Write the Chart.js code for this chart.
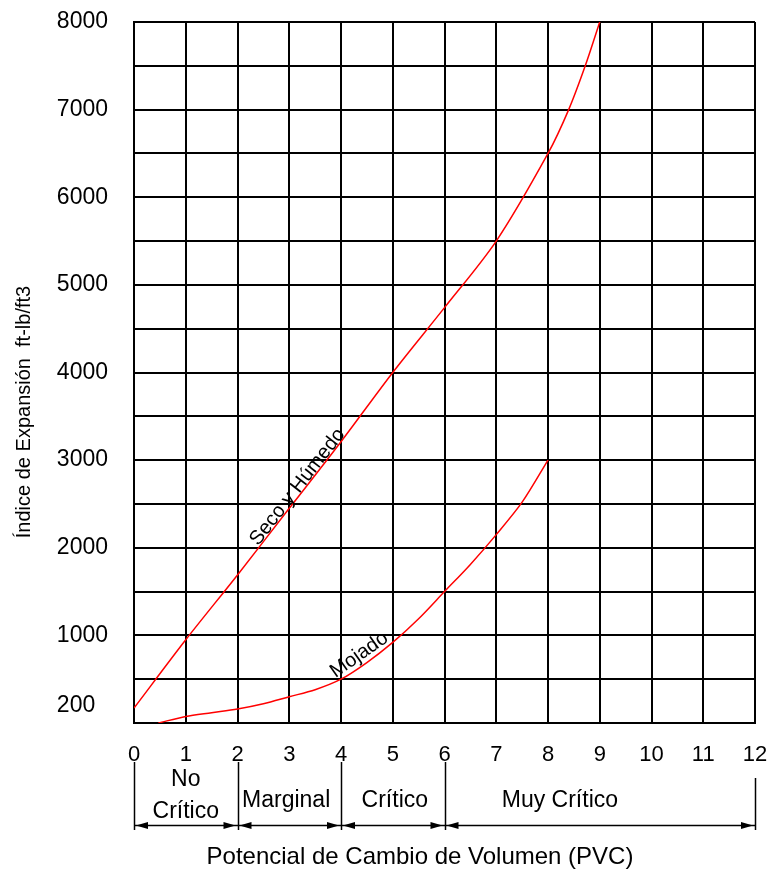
<!DOCTYPE html>
<html><head><meta charset="utf-8">
<script src="https://cdn.jsdelivr.net/npm/chart.js@4.4.1/dist/chart.umd.min.js"></script>
<style>html,body{margin:0;padding:0;background:#fff;}#wrap{width:774px;height:871px;position:relative;}</style>
</head><body><div id="wrap"><canvas id="c" width="774" height="871"></canvas></div>
<script>
// ---- data ----
const xTickValues = [0,1,2,3,4,5,6,7,8,9,10,11,12];
const yGridValues = [0,500,1000,1500,2000,2500,3000,3500,4000,4500,5000,5500,6000,6500,7000,7500,8000];
const yTickLabels = [200,1000,2000,3000,4000,5000,6000,7000,8000];
const secoX = [0,1,2,3,4,5,6,7,8,8.4,8.72,9];
const secoY = [170,950,1690,2450,3210,4000,4740,5500,6500,7000,7500,8000];
const mojadoX = [0.47,1,1.5,2,2.5,3,3.5,4,4.5,5,5.5,6,6.5,7,7.5,8];
const mojadoY = [0,75,118,160,220,300,380,500,690,920,1190,1500,1810,2150,2520,3000];
const seriesNames = ['Seco y Húmedo','Mojado'];
const categoryNames = [['No','Crítico'],['Marginal'],['Crítico'],['Muy Crítico']];
const categoryBounds = [0,2,4,6,12];

// ---- layout / style constants ----
const FONT = '"Liberation Sans", Arial, sans-serif';
const categoryLabelX = [1, 2.94, 5.04, 8.23];
const curveLabelAt = [3.26, 4.47];
const curveLabelLift = [1, 5];

const toPts = (xs, ys) => xs.map((x,i)=>({x:x, y:ys[i]}));

function interp(xs, ys, x){
  for (let i=0;i<xs.length-1;i++){
    if (x>=xs[i] && x<=xs[i+1]){
      const t=(x-xs[i])/(xs[i+1]-xs[i]);
      return ys[i]+t*(ys[i+1]-ys[i]);
    }
  }
  return ys[ys.length-1];
}

const annot = {
  id:'annot',
  afterDraw(chart){
    const ctx = chart.ctx, xs = chart.scales.x, ys = chart.scales.y, ca = chart.chartArea;
    ctx.save();
    ctx.fillStyle = '#000';
    // y title
    ctx.save();
    ctx.translate(24, 412);
    ctx.rotate(-Math.PI/2);
    ctx.font = '20px ' + FONT;
    ctx.textAlign='center'; ctx.textBaseline='middle';
    ctx.fillText('Índice de Expansión  ft-lb/ft3', 0, 0);
    ctx.restore();
    // x title
    ctx.font = '24px ' + FONT;
    ctx.textAlign='center'; ctx.textBaseline='middle';
    ctx.fillText('Potencial de Cambio de Volumen (PVC)', 420, 857);
    // category brackets
    ctx.strokeStyle='#000'; ctx.lineWidth=1.5;
    categoryBounds.forEach((b,i)=>{
      const px = Math.round(xs.getPixelForValue(b))+0.5;
      ctx.beginPath();
      ctx.moveTo(px, i===categoryBounds.length-1 ? 778 : 762);
      ctx.lineTo(px, 830);
      ctx.stroke();
    });
    ctx.beginPath();
    ctx.moveTo(ca.left, 825.5); ctx.lineTo(ca.right, 825.5); ctx.stroke();
    // arrowheads
    for (let i=0;i<categoryBounds.length-1;i++){
      const a = xs.getPixelForValue(categoryBounds[i]);
      const b = xs.getPixelForValue(categoryBounds[i+1]);
      ctx.beginPath();
      ctx.moveTo(a+2, 825.5); ctx.lineTo(a+14, 822); ctx.lineTo(a+14, 829); ctx.closePath(); ctx.fill();
      ctx.beginPath();
      ctx.moveTo(b-2, 825.5); ctx.lineTo(b-14, 822); ctx.lineTo(b-14, 829); ctx.closePath(); ctx.fill();
    }
    // category labels
    ctx.font = '23px ' + FONT;
    ctx.textAlign='center'; ctx.textBaseline='middle';
    categoryNames.forEach((lines,i)=>{
      const px = xs.getPixelForValue(categoryLabelX[i]);
      if (lines.length===2){
        ctx.fillText(lines[0], px, 780);
        ctx.fillText(lines[1], px, 812);
      } else {
        ctx.fillText(lines[0], px, 801);
      }
    });
    // curve labels
    const series = [[secoX,secoY],[mojadoX,mojadoY]];
    ctx.font = '20px ' + FONT;
    ctx.textAlign='center'; ctx.textBaseline='alphabetic';
    series.forEach((s,i)=>{
      const xv = curveLabelAt[i];
      const p0x = xs.getPixelForValue(xv-0.25), p0y = ys.getPixelForValue(interp(s[0],s[1],xv-0.25));
      const p1x = xs.getPixelForValue(xv+0.25), p1y = ys.getPixelForValue(interp(s[0],s[1],xv+0.25));
      const ang = Math.atan2(p1y-p0y, p1x-p0x);
      const cx = xs.getPixelForValue(xv), cy = ys.getPixelForValue(interp(s[0],s[1],xv));
      ctx.save();
      ctx.translate(cx, cy);
      ctx.rotate(ang);
      ctx.fillText(seriesNames[i], 0, -curveLabelLift[i]);
      ctx.restore();
    });
    ctx.restore();
  }
};

new Chart(document.getElementById('c'), {
  type:'scatter',
  data:{
    datasets:[
      {label:seriesNames[0], data:toPts(secoX,secoY), showLine:true, borderColor:'#ff0000', borderWidth:1.5, pointRadius:0, tension:0.3, fill:false},
      {label:seriesNames[1], data:toPts(mojadoX,mojadoY), showLine:true, borderColor:'#ff0000', borderWidth:1.5, pointRadius:0, tension:0.3, fill:false}
    ]
  },
  options:{
    responsive:false, animation:false, devicePixelRatio:1,
    layout:{padding:{top:22,right:19,left:0,bottom:0}},
    plugins:{legend:{display:false}, tooltip:{enabled:false}},
    scales:{
      x:{
        type:'linear', min:0, max:12,
        afterBuildTicks:(s)=>{ s.ticks = xTickValues.map(v=>({value:v})); },
        afterFit:(s)=>{ s.height = 148; s.paddingLeft = 0; s.paddingRight = 0; },
        grid:{color:'#000', lineWidth:2, drawTicks:false},
        border:{display:true, color:'#000', width:2},
        ticks:{autoSkip:false, maxRotation:0, padding:19, color:'#000', font:{family:FONT, size:22}, callback:(v)=>String(v)}
      },
      y:{
        type:'linear', min:0, max:8000,
        afterBuildTicks:(s)=>{
          const t = yGridValues.concat([200]).sort((a,b)=>a-b);
          s.ticks = t.map(v=>({value:v}));
        },
        afterFit:(s)=>{ s.width = 134; s.paddingTop = 0; s.paddingBottom = 0; },
        grid:{color:(c)=> (c.tick && c.tick.value===200) ? 'rgba(0,0,0,0)' : '#000', lineWidth:2, drawTicks:false},
        border:{display:true, color:'#000', width:2},
        ticks:{autoSkip:false, padding:26, color:'#000', font:{family:FONT, size:23},
          callback:(v)=> v===200 ? '200  ' : (yTickLabels.includes(v) ? String(v) : '')}
      }
    }
  },
  plugins:[annot]
});
</script></body></html>
